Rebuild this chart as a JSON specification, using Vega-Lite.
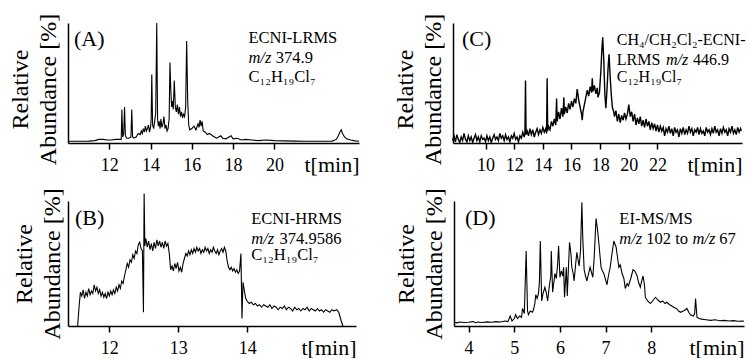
{
"$schema": "https://vega.github.io/schema/vega-lite/v6.json",
"background": "white",
"padding": {"left": 7, "top": 13, "right": 5, "bottom": 0},
"datasets": {
"A": [{"t":10.0,"v":1.5},{"t":10.5,"v":1.5},{"t":11.0,"v":1.6},{"t":11.3,"v":2},{"t":11.5,"v":3},{"t":11.7,"v":3},{"t":11.9,"v":2.5},{"t":12.1,"v":2.5},{"t":12.3,"v":3},{"t":12.5,"v":3},{"t":12.58,"v":3},{"t":12.61,"v":28},{"t":12.65,"v":5},{"t":12.7,"v":8},{"t":12.74,"v":30},{"t":12.78,"v":6},{"t":12.85,"v":4},{"t":12.95,"v":4},{"t":13.05,"v":5},{"t":13.09,"v":28},{"t":13.13,"v":5},{"t":13.2,"v":4},{"t":13.3,"v":5},{"t":13.4,"v":8},{"t":13.5,"v":7},{"t":13.55,"v":10},{"t":13.6,"v":8},{"t":13.65,"v":12},{"t":13.7,"v":9},{"t":13.75,"v":14},{"t":13.8,"v":10},{"t":13.85,"v":12},{"t":13.9,"v":15},{"t":13.95,"v":9},{"t":14.0,"v":13},{"t":14.03,"v":20},{"t":14.06,"v":57},{"t":14.1,"v":15},{"t":14.15,"v":12},{"t":14.2,"v":18},{"t":14.25,"v":25},{"t":14.3,"v":100},{"t":14.34,"v":20},{"t":14.38,"v":14},{"t":14.42,"v":18},{"t":14.46,"v":12},{"t":14.5,"v":20},{"t":14.55,"v":13},{"t":14.6,"v":16},{"t":14.65,"v":22},{"t":14.7,"v":12},{"t":14.75,"v":15},{"t":14.8,"v":10},{"t":14.85,"v":12},{"t":14.9,"v":20},{"t":14.94,"v":67},{"t":14.98,"v":45},{"t":15.02,"v":30},{"t":15.06,"v":35},{"t":15.1,"v":28},{"t":15.15,"v":52},{"t":15.2,"v":30},{"t":15.25,"v":26},{"t":15.3,"v":32},{"t":15.35,"v":24},{"t":15.4,"v":30},{"t":15.45,"v":22},{"t":15.5,"v":26},{"t":15.55,"v":21},{"t":15.6,"v":24},{"t":15.65,"v":22},{"t":15.7,"v":30},{"t":15.75,"v":85},{"t":15.8,"v":35},{"t":15.85,"v":15},{"t":15.9,"v":11},{"t":16.0,"v":12},{"t":16.1,"v":14},{"t":16.2,"v":11},{"t":16.3,"v":16},{"t":16.35,"v":13},{"t":16.4,"v":19},{"t":16.45,"v":14},{"t":16.5,"v":18},{"t":16.55,"v":10},{"t":16.65,"v":9},{"t":16.75,"v":7},{"t":16.85,"v":8},{"t":17.0,"v":6},{"t":17.1,"v":5},{"t":17.2,"v":4},{"t":17.3,"v":5},{"t":17.4,"v":6},{"t":17.5,"v":4},{"t":17.65,"v":3.5},{"t":17.8,"v":5},{"t":17.9,"v":6},{"t":18.0,"v":3.5},{"t":18.2,"v":4},{"t":18.4,"v":2.5},{"t":18.6,"v":3},{"t":18.9,"v":2.5},{"t":19.2,"v":2},{"t":19.6,"v":2.5},{"t":20.0,"v":2},{"t":20.5,"v":1.8},{"t":21.0,"v":1.6},{"t":21.5,"v":1.5},{"t":22.0,"v":1.5},{"t":22.5,"v":1.5},{"t":22.8,"v":1.6},{"t":23.0,"v":3},{"t":23.1,"v":6},{"t":23.2,"v":10},{"t":23.24,"v":11},{"t":23.3,"v":8},{"t":23.4,"v":5},{"t":23.5,"v":3.5},{"t":23.7,"v":2.5},{"t":23.9,"v":1.8},{"t":24.1,"v":1.5}],
"C": [{"t":7.7,"v":2},{"t":7.8,"v":6},{"t":7.9,"v":1},{"t":8.0,"v":7},{"t":8.1,"v":3},{"t":8.2,"v":0.5},{"t":8.3,"v":5},{"t":8.4,"v":2},{"t":8.5,"v":8},{"t":8.6,"v":3},{"t":8.7,"v":1},{"t":8.8,"v":6},{"t":8.9,"v":2},{"t":9.0,"v":5},{"t":9.1,"v":0.5},{"t":9.2,"v":4},{"t":9.3,"v":7},{"t":9.4,"v":2},{"t":9.5,"v":5},{"t":9.6,"v":1},{"t":9.7,"v":6},{"t":9.8,"v":3},{"t":9.9,"v":4},{"t":10.0,"v":1},{"t":10.1,"v":6},{"t":10.2,"v":2},{"t":10.3,"v":5},{"t":10.4,"v":0.5},{"t":10.5,"v":4},{"t":10.6,"v":7},{"t":10.7,"v":3},{"t":10.8,"v":5},{"t":10.9,"v":2},{"t":11.0,"v":8},{"t":11.1,"v":4},{"t":11.2,"v":6},{"t":11.3,"v":2},{"t":11.4,"v":7},{"t":11.5,"v":3},{"t":11.6,"v":5},{"t":11.7,"v":1},{"t":11.8,"v":6},{"t":11.9,"v":4},{"t":12.0,"v":8},{"t":12.1,"v":3},{"t":12.2,"v":5},{"t":12.3,"v":1},{"t":12.4,"v":6},{"t":12.5,"v":4},{"t":12.6,"v":9},{"t":12.7,"v":5},{"t":12.75,"v":8},{"t":12.79,"v":52},{"t":12.83,"v":7},{"t":12.9,"v":10},{"t":13.0,"v":6},{"t":13.1,"v":12},{"t":13.2,"v":7},{"t":13.3,"v":11},{"t":13.4,"v":5},{"t":13.5,"v":9},{"t":13.6,"v":12},{"t":13.7,"v":7},{"t":13.8,"v":11},{"t":13.9,"v":8},{"t":14.0,"v":13},{"t":14.1,"v":9},{"t":14.2,"v":12},{"t":14.26,"v":8},{"t":14.3,"v":54},{"t":14.34,"v":10},{"t":14.4,"v":14},{"t":14.5,"v":11},{"t":14.6,"v":18},{"t":14.7,"v":14},{"t":14.8,"v":20},{"t":14.9,"v":15},{"t":14.96,"v":37},{"t":15.0,"v":18},{"t":15.1,"v":26},{"t":15.2,"v":20},{"t":15.3,"v":29},{"t":15.4,"v":22},{"t":15.47,"v":38},{"t":15.5,"v":24},{"t":15.6,"v":30},{"t":15.7,"v":25},{"t":15.8,"v":33},{"t":15.9,"v":28},{"t":16.0,"v":35},{"t":16.1,"v":30},{"t":16.2,"v":37},{"t":16.3,"v":33},{"t":16.4,"v":45},{"t":16.5,"v":36},{"t":16.6,"v":30},{"t":16.7,"v":24},{"t":16.75,"v":19},{"t":16.8,"v":26},{"t":16.9,"v":32},{"t":17.0,"v":38},{"t":17.1,"v":44},{"t":17.2,"v":39},{"t":17.3,"v":47},{"t":17.4,"v":42},{"t":17.45,"v":54},{"t":17.5,"v":43},{"t":17.6,"v":48},{"t":17.7,"v":41},{"t":17.8,"v":46},{"t":17.85,"v":38},{"t":17.95,"v":42},{"t":18.05,"v":60},{"t":18.12,"v":78},{"t":18.18,"v":88},{"t":18.25,"v":70},{"t":18.33,"v":40},{"t":18.4,"v":29},{"t":18.48,"v":45},{"t":18.55,"v":62},{"t":18.62,"v":74},{"t":18.7,"v":55},{"t":18.78,"v":40},{"t":18.85,"v":30},{"t":18.95,"v":26},{"t":19.0,"v":22},{"t":19.1,"v":27},{"t":19.2,"v":18},{"t":19.3,"v":24},{"t":19.4,"v":17},{"t":19.5,"v":23},{"t":19.6,"v":19},{"t":19.7,"v":25},{"t":19.8,"v":20},{"t":19.9,"v":24},{"t":20.0,"v":32},{"t":20.1,"v":22},{"t":20.2,"v":26},{"t":20.3,"v":18},{"t":20.4,"v":24},{"t":20.5,"v":15},{"t":20.6,"v":21},{"t":20.7,"v":16},{"t":20.8,"v":22},{"t":20.9,"v":14},{"t":21.0,"v":19},{"t":21.1,"v":13},{"t":21.2,"v":20},{"t":21.3,"v":14},{"t":21.4,"v":18},{"t":21.5,"v":11},{"t":21.6,"v":17},{"t":21.7,"v":12},{"t":21.8,"v":16},{"t":21.9,"v":10},{"t":22.0,"v":15},{"t":22.1,"v":9},{"t":22.2,"v":14},{"t":22.3,"v":10},{"t":22.4,"v":13},{"t":22.5,"v":6},{"t":22.6,"v":12},{"t":22.7,"v":9},{"t":22.8,"v":14},{"t":22.9,"v":8},{"t":23.0,"v":12},{"t":23.1,"v":6},{"t":23.2,"v":13},{"t":23.3,"v":9},{"t":23.4,"v":11},{"t":23.5,"v":5},{"t":23.6,"v":12},{"t":23.7,"v":8},{"t":23.8,"v":13},{"t":23.9,"v":7},{"t":24.0,"v":11},{"t":24.1,"v":8},{"t":24.2,"v":14},{"t":24.3,"v":9},{"t":24.4,"v":12},{"t":24.5,"v":6},{"t":24.6,"v":11},{"t":24.7,"v":9},{"t":24.8,"v":13},{"t":24.9,"v":7},{"t":25.0,"v":12},{"t":25.1,"v":8},{"t":25.2,"v":10},{"t":25.3,"v":6},{"t":25.4,"v":13},{"t":25.5,"v":9},{"t":25.6,"v":11},{"t":25.7,"v":7},{"t":25.8,"v":12},{"t":25.9,"v":8},{"t":26.0,"v":14},{"t":26.1,"v":9},{"t":26.2,"v":11},{"t":26.3,"v":6},{"t":26.4,"v":12},{"t":26.5,"v":8},{"t":26.6,"v":13},{"t":26.7,"v":9},{"t":26.8,"v":11},{"t":26.9,"v":6},{"t":27.0,"v":12},{"t":27.1,"v":9},{"t":27.2,"v":14},{"t":27.3,"v":8},{"t":27.4,"v":11},{"t":27.5,"v":7},{"t":27.6,"v":13},{"t":27.7,"v":9},{"t":27.8,"v":12},{"t":27.85,"v":10}],
"B": [{"t":11.54,"v":0},{"t":11.56,"v":15},{"t":11.58,"v":27},{"t":11.6,"v":24},{"t":11.62,"v":29},{"t":11.64,"v":22},{"t":11.66,"v":27},{"t":11.68,"v":24},{"t":11.7,"v":30},{"t":11.72,"v":25},{"t":11.74,"v":28},{"t":11.76,"v":26},{"t":11.78,"v":33},{"t":11.8,"v":28},{"t":11.82,"v":31},{"t":11.84,"v":26},{"t":11.86,"v":29},{"t":11.88,"v":24},{"t":11.9,"v":27},{"t":11.92,"v":23},{"t":11.94,"v":26},{"t":11.96,"v":22},{"t":11.98,"v":27},{"t":12.0,"v":24},{"t":12.02,"v":28},{"t":12.04,"v":25},{"t":12.06,"v":29},{"t":12.08,"v":26},{"t":12.1,"v":31},{"t":12.12,"v":28},{"t":12.14,"v":33},{"t":12.16,"v":30},{"t":12.18,"v":36},{"t":12.2,"v":34},{"t":12.22,"v":40},{"t":12.24,"v":45},{"t":12.26,"v":50},{"t":12.28,"v":47},{"t":12.3,"v":53},{"t":12.32,"v":51},{"t":12.34,"v":57},{"t":12.36,"v":54},{"t":12.38,"v":60},{"t":12.4,"v":58},{"t":12.42,"v":65},{"t":12.44,"v":67},{"t":12.46,"v":62},{"t":12.48,"v":60},{"t":12.495,"v":11},{"t":12.505,"v":106},{"t":12.515,"v":64},{"t":12.53,"v":70},{"t":12.55,"v":63},{"t":12.57,"v":68},{"t":12.59,"v":61},{"t":12.61,"v":66},{"t":12.63,"v":60},{"t":12.65,"v":67},{"t":12.67,"v":62},{"t":12.69,"v":69},{"t":12.71,"v":64},{"t":12.73,"v":68},{"t":12.75,"v":63},{"t":12.77,"v":67},{"t":12.79,"v":62},{"t":12.81,"v":68},{"t":12.83,"v":64},{"t":12.85,"v":66},{"t":12.87,"v":58},{"t":12.89,"v":45},{"t":12.91,"v":48},{"t":12.93,"v":44},{"t":12.95,"v":50},{"t":12.97,"v":46},{"t":12.99,"v":51},{"t":13.01,"v":44},{"t":13.03,"v":47},{"t":13.05,"v":43},{"t":13.07,"v":50},{"t":13.09,"v":54},{"t":13.11,"v":58},{"t":13.13,"v":56},{"t":13.15,"v":60},{"t":13.17,"v":57},{"t":13.19,"v":61},{"t":13.21,"v":58},{"t":13.23,"v":62},{"t":13.25,"v":59},{"t":13.27,"v":63},{"t":13.29,"v":60},{"t":13.31,"v":62},{"t":13.33,"v":58},{"t":13.35,"v":61},{"t":13.37,"v":59},{"t":13.39,"v":63},{"t":13.41,"v":60},{"t":13.43,"v":62},{"t":13.45,"v":58},{"t":13.47,"v":61},{"t":13.49,"v":59},{"t":13.51,"v":63},{"t":13.53,"v":60},{"t":13.55,"v":58},{"t":13.57,"v":61},{"t":13.59,"v":57},{"t":13.61,"v":60},{"t":13.63,"v":62},{"t":13.65,"v":59},{"t":13.67,"v":63},{"t":13.69,"v":60},{"t":13.71,"v":52},{"t":13.73,"v":47},{"t":13.75,"v":45},{"t":13.77,"v":47},{"t":13.79,"v":44},{"t":13.81,"v":46},{"t":13.83,"v":43},{"t":13.85,"v":45},{"t":13.87,"v":42},{"t":13.89,"v":44},{"t":13.91,"v":58},{"t":13.925,"v":6},{"t":13.94,"v":35},{"t":13.96,"v":28},{"t":13.98,"v":22},{"t":14.0,"v":20},{"t":14.03,"v":18},{"t":14.06,"v":19},{"t":14.09,"v":17},{"t":14.12,"v":18},{"t":14.15,"v":16},{"t":14.18,"v":17},{"t":14.21,"v":15},{"t":14.24,"v":17},{"t":14.27,"v":16},{"t":14.3,"v":15},{"t":14.33,"v":17},{"t":14.36,"v":14},{"t":14.39,"v":16},{"t":14.42,"v":15},{"t":14.45,"v":13},{"t":14.48,"v":15},{"t":14.51,"v":14},{"t":14.54,"v":16},{"t":14.57,"v":13},{"t":14.6,"v":15},{"t":14.63,"v":14},{"t":14.66,"v":12},{"t":14.69,"v":15},{"t":14.72,"v":13},{"t":14.75,"v":14},{"t":14.78,"v":12},{"t":14.81,"v":14},{"t":14.84,"v":13},{"t":14.87,"v":15},{"t":14.9,"v":12},{"t":14.93,"v":14},{"t":14.96,"v":13},{"t":14.99,"v":12},{"t":15.02,"v":14},{"t":15.05,"v":12},{"t":15.08,"v":13},{"t":15.11,"v":11},{"t":15.14,"v":13},{"t":15.17,"v":12},{"t":15.2,"v":11},{"t":15.23,"v":13},{"t":15.26,"v":12},{"t":15.3,"v":13},{"t":15.33,"v":11},{"t":15.36,"v":5},{"t":15.39,"v":0}],
"D": [{"t":3.68,"v":3},{"t":3.75,"v":2.5},{"t":3.8,"v":3.2},{"t":3.9,"v":2.8},{"t":4.0,"v":3},{"t":4.1,"v":3.5},{"t":4.15,"v":2.6},{"t":4.2,"v":3.2},{"t":4.3,"v":2.8},{"t":4.4,"v":3.3},{"t":4.5,"v":3},{"t":4.6,"v":3.5},{"t":4.7,"v":3.2},{"t":4.8,"v":4},{"t":4.86,"v":3.5},{"t":4.91,"v":8},{"t":4.95,"v":4},{"t":5.0,"v":6},{"t":5.03,"v":9},{"t":5.07,"v":6},{"t":5.12,"v":8},{"t":5.16,"v":7},{"t":5.18,"v":14},{"t":5.22,"v":10},{"t":5.26,"v":60},{"t":5.29,"v":12},{"t":5.31,"v":9},{"t":5.35,"v":12},{"t":5.4,"v":11},{"t":5.42,"v":13},{"t":5.45,"v":18},{"t":5.47,"v":25},{"t":5.5,"v":22},{"t":5.53,"v":26},{"t":5.55,"v":35},{"t":5.57,"v":68},{"t":5.6,"v":20},{"t":5.63,"v":26},{"t":5.67,"v":31},{"t":5.7,"v":27},{"t":5.73,"v":20},{"t":5.77,"v":33},{"t":5.8,"v":40},{"t":5.81,"v":60},{"t":5.84,"v":27},{"t":5.87,"v":36},{"t":5.89,"v":42},{"t":5.92,"v":38},{"t":5.95,"v":50},{"t":5.97,"v":64},{"t":6.0,"v":39},{"t":6.03,"v":44},{"t":6.06,"v":40},{"t":6.08,"v":47},{"t":6.1,"v":23},{"t":6.12,"v":35},{"t":6.14,"v":47},{"t":6.16,"v":24},{"t":6.19,"v":50},{"t":6.21,"v":67},{"t":6.24,"v":58},{"t":6.26,"v":47},{"t":6.29,"v":42},{"t":6.31,"v":36},{"t":6.34,"v":48},{"t":6.37,"v":59},{"t":6.4,"v":52},{"t":6.42,"v":48},{"t":6.45,"v":60},{"t":6.48,"v":99},{"t":6.5,"v":70},{"t":6.53,"v":45},{"t":6.56,"v":40},{"t":6.59,"v":36},{"t":6.62,"v":41},{"t":6.66,"v":47},{"t":6.69,"v":43},{"t":6.72,"v":39},{"t":6.75,"v":55},{"t":6.79,"v":86},{"t":6.82,"v":78},{"t":6.85,"v":67},{"t":6.88,"v":55},{"t":6.9,"v":47},{"t":6.93,"v":44},{"t":6.96,"v":42},{"t":7.0,"v":37},{"t":7.03,"v":33},{"t":7.06,"v":40},{"t":7.1,"v":47},{"t":7.14,"v":58},{"t":7.18,"v":68},{"t":7.21,"v":65},{"t":7.23,"v":63},{"t":7.26,"v":55},{"t":7.29,"v":47},{"t":7.32,"v":49},{"t":7.36,"v":42},{"t":7.4,"v":38},{"t":7.43,"v":30},{"t":7.47,"v":34},{"t":7.5,"v":32},{"t":7.55,"v":38},{"t":7.6,"v":45},{"t":7.64,"v":44},{"t":7.69,"v":40},{"t":7.72,"v":35},{"t":7.76,"v":31},{"t":7.79,"v":36},{"t":7.82,"v":40},{"t":7.85,"v":33},{"t":7.87,"v":23},{"t":7.92,"v":20},{"t":7.98,"v":18},{"t":8.03,"v":20},{"t":8.09,"v":23},{"t":8.14,"v":21},{"t":8.2,"v":19},{"t":8.25,"v":20},{"t":8.3,"v":18},{"t":8.34,"v":19},{"t":8.4,"v":17},{"t":8.45,"v":16},{"t":8.49,"v":15},{"t":8.55,"v":14},{"t":8.6,"v":12},{"t":8.64,"v":11},{"t":8.7,"v":12},{"t":8.75,"v":13},{"t":8.78,"v":14},{"t":8.82,"v":11},{"t":8.86,"v":9},{"t":8.92,"v":8},{"t":8.95,"v":10},{"t":8.97,"v":22},{"t":9.0,"v":7},{"t":9.05,"v":6},{"t":9.1,"v":5.5},{"t":9.2,"v":5},{"t":9.3,"v":4.5},{"t":9.4,"v":5},{"t":9.5,"v":4.2},{"t":9.6,"v":4.5},{"t":9.7,"v":4},{"t":9.8,"v":4.3},{"t":9.9,"v":3.8},{"t":10.0,"v":4},{"t":10.03,"v":3.8}],
"annA": [{"t":10.29,"v":81,"s":"(A)","r":"p"},{"t":18.74,"v":83,"s":"ECNI-LRMS","r":"n"},{"t":18.74,"v":66.5,"s":"m/z","r":"i"},{"t":20.07,"v":66.5,"s":"374.9","r":"n"},{"t":18.74,"v":51,"s":"C₁₂H₁₉Cl₇","r":"n"}],
"annB": [{"t":11.5,"v":81,"s":"(B)","r":"p"},{"t":14.06,"v":82,"s":"ECNI-HRMS","r":"n"},{"t":14.06,"v":66,"s":"m/z","r":"i"},{"t":14.47,"v":66,"s":"374.9586","r":"n"},{"t":14.06,"v":53,"s":"C₁₂H₁₉Cl₇","r":"n"}],
"annC": [{"t":8.36,"v":81,"s":"(C)","r":"p"},{"t":19.16,"v":82,"s":"CH₄/CH₂Cl₂-ECNI-","r":"n"},{"t":19.16,"v":65,"s":"LRMS","r":"n"},{"t":22.59,"v":65,"s":"m/z","r":"i"},{"t":24.48,"v":65,"s":"446.9","r":"n"},{"t":19.16,"v":51,"s":"C₁₂H₁₉Cl₇","r":"n"}],
"annD": [{"t":3.92,"v":81,"s":"(D)","r":"p"},{"t":7.3,"v":82,"s":"EI-MS/MS","r":"n"},{"t":7.3,"v":66,"s":"m/z","r":"i"},{"t":7.89,"v":66,"s":"102 to","r":"n"},{"t":8.9,"v":66,"s":"m/z","r":"i"},{"t":9.49,"v":66,"s":"67","r":"n"}]
},
"vconcat": [
{"hconcat": [
{"width": 291, "height": 120,
 "encoding": {"x": {"field": "t", "type": "quantitative", "scale": {"domain": [10, 24.1], "nice": false, "zero": false}, "axis": {"values": [12,14,16,18,20], "title": "t[min]"}},
              "y": {"field": "v", "type": "quantitative", "scale": {"domain": [0, 100], "nice": false}, "axis": {"title": ["Relative", "Abundance [%]"], "titleY": 66}}},
 "layer": [
  {"data": {"name": "A"}, "mark": {"type": "line", "color": "black", "strokeWidth": 1.1}},
  {"data": {"name": "annA"}, "transform": [{"filter": "datum.r == 'p'"}], "mark": {"type": "text", "align": "left", "baseline": "alphabetic", "fontSize": 22, "font": "Liberation Serif", "color": "black"}, "encoding": {"text": {"field": "s"}}},
  {"data": {"name": "annA"}, "transform": [{"filter": "datum.r == 'n'"}], "mark": {"type": "text", "align": "left", "baseline": "alphabetic", "fontSize": 16.5, "font": "Liberation Serif", "color": "black"}, "encoding": {"text": {"field": "s"}}},
  {"data": {"name": "annA"}, "transform": [{"filter": "datum.r == 'i'"}], "mark": {"type": "text", "align": "left", "baseline": "alphabetic", "fontSize": 16.5, "font": "Liberation Serif", "fontStyle": "italic", "color": "black"}, "encoding": {"text": {"field": "s"}}}
 ]},
{"width": 289, "height": 120,
 "encoding": {"x": {"field": "t", "type": "quantitative", "scale": {"domain": [7.73, 27.9], "nice": false, "zero": false}, "axis": {"values": [10,12,14,16,18,20,22], "title": "t[min]"}},
              "y": {"field": "v", "type": "quantitative", "scale": {"domain": [0, 100], "nice": false}, "axis": {"title": ["Relative", "Abundance [%]"], "titleY": 66}}},
 "layer": [
  {"data": {"name": "C"}, "mark": {"type": "line", "color": "black", "strokeWidth": 1.4}},
  {"data": {"name": "annC"}, "transform": [{"filter": "datum.r == 'p'"}], "mark": {"type": "text", "align": "left", "baseline": "alphabetic", "fontSize": 22, "font": "Liberation Serif", "color": "black"}, "encoding": {"text": {"field": "s"}}},
  {"data": {"name": "annC"}, "transform": [{"filter": "datum.r == 'n'"}], "mark": {"type": "text", "align": "left", "baseline": "alphabetic", "fontSize": 16, "font": "Liberation Serif", "color": "black"}, "encoding": {"text": {"field": "s"}}},
  {"data": {"name": "annC"}, "transform": [{"filter": "datum.r == 'i'"}], "mark": {"type": "text", "align": "left", "baseline": "alphabetic", "fontSize": 16, "font": "Liberation Serif", "fontStyle": "italic", "color": "black"}, "encoding": {"text": {"field": "s"}}}
 ]}
], "spacing": 30},
{"hconcat": [
{"width": 288, "height": 125,
 "encoding": {"x": {"field": "t", "type": "quantitative", "scale": {"domain": [11.4, 15.58], "nice": false, "zero": false}, "axis": {"values": [12,13,14], "title": "t[min]"}},
              "y": {"field": "v", "type": "quantitative", "scale": {"domain": [0, 100], "nice": false}, "axis": {"title": ["Relative", "Abundance [%]"], "titlePadding": 4}}},
 "layer": [
  {"data": {"name": "B"}, "mark": {"type": "line", "color": "black", "strokeWidth": 1.1}},
  {"data": {"name": "annB"}, "transform": [{"filter": "datum.r == 'p'"}], "mark": {"type": "text", "align": "left", "baseline": "alphabetic", "fontSize": 22, "font": "Liberation Serif", "color": "black"}, "encoding": {"text": {"field": "s"}}},
  {"data": {"name": "annB"}, "transform": [{"filter": "datum.r == 'n'"}], "mark": {"type": "text", "align": "left", "baseline": "alphabetic", "fontSize": 16.5, "font": "Liberation Serif", "color": "black"}, "encoding": {"text": {"field": "s"}}},
  {"data": {"name": "annB"}, "transform": [{"filter": "datum.r == 'i'"}], "mark": {"type": "text", "align": "left", "baseline": "alphabetic", "fontSize": 16.5, "font": "Liberation Serif", "fontStyle": "italic", "color": "black"}, "encoding": {"text": {"field": "s"}}}
 ]},
{"width": 290, "height": 125,
 "encoding": {"x": {"field": "t", "type": "quantitative", "scale": {"domain": [3.68, 10.03], "nice": false, "zero": false}, "axis": {"values": [4,5,6,7,8], "title": "t[min]"}},
              "y": {"field": "v", "type": "quantitative", "scale": {"domain": [0, 100], "nice": false}, "axis": {"title": ["Relative", "Abundance [%]"]}}},
 "layer": [
  {"data": {"name": "D"}, "mark": {"type": "line", "color": "black", "strokeWidth": 1.1}},
  {"data": {"name": "annD"}, "transform": [{"filter": "datum.r == 'p'"}], "mark": {"type": "text", "align": "left", "baseline": "alphabetic", "fontSize": 22, "font": "Liberation Serif", "color": "black"}, "encoding": {"text": {"field": "s"}}},
  {"data": {"name": "annD"}, "transform": [{"filter": "datum.r == 'n'"}], "mark": {"type": "text", "align": "left", "baseline": "alphabetic", "fontSize": 16.5, "font": "Liberation Serif", "color": "black"}, "encoding": {"text": {"field": "s"}}},
  {"data": {"name": "annD"}, "transform": [{"filter": "datum.r == 'i'"}], "mark": {"type": "text", "align": "left", "baseline": "alphabetic", "fontSize": 16.5, "font": "Liberation Serif", "fontStyle": "italic", "color": "black"}, "encoding": {"text": {"field": "s"}}}
 ]}
], "spacing": 37}
],
"spacing": 12,
"config": {
 "view": {"stroke": null},
 "font": "Liberation Serif",
 "axis": {"domainColor": "black", "domainWidth": 1.5, "tickColor": "black", "tickWidth": 1.5, "labelColor": "black", "titleColor": "black", "labelFont": "Liberation Serif", "titleFont": "Liberation Serif", "titleFontWeight": "normal", "grid": false},
 "axisX": {"tickSize": 6, "labelFontSize": 18, "labelBaseline": "alphabetic", "labelPadding": 21, "labelFlush": false, "titleFontSize": 22, "titleAnchor": "end", "titleAlign": "right", "titleBaseline": "alphabetic", "titleY": 28},
 "axisY": {"ticks": false, "labels": false, "titleFontSize": 24, "titlePadding": 8, "titleLineHeight": 28}
}
}
